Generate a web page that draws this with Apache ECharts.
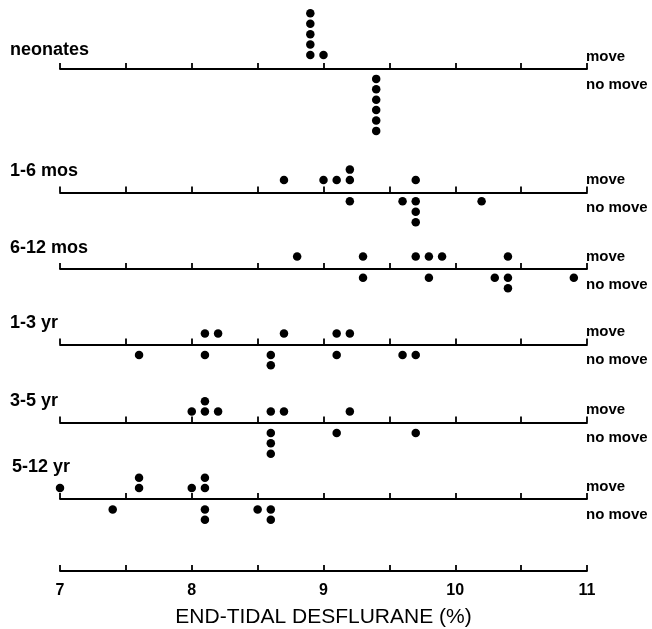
<!DOCTYPE html>
<html>
<head>
<meta charset="utf-8">
<script src="https://cdn.jsdelivr.net/npm/echarts@6/dist/echarts.min.js"></script>
<style>
  html, body { margin: 0; padding: 0; background: #fff; }
  #chart { width: 652px; height: 629px; }
</style>
</head>
<body>
<div id="chart"></div>
<script>
// ---- data (end-tidal desflurane %, one entry per patient) ----
const groups = ['neonates', '1-6 mos', '6-12 mos', '1-3 yr', '3-5 yr', '5-12 yr'];
const neonatesMove   = [8.9, 8.9, 8.9, 8.9, 8.9, 9.0];
const neonatesNoMove = [9.4, 9.4, 9.4, 9.4, 9.4, 9.4];
const mos1to6Move    = [8.7, 9.0, 9.1, 9.2, 9.2, 9.7];
const mos1to6NoMove  = [9.2, 9.6, 9.7, 9.7, 9.7, 10.2];
const mos6to12Move   = [8.8, 9.3, 9.7, 9.8, 9.9, 10.4];
const mos6to12NoMove = [9.3, 9.8, 10.3, 10.4, 10.4, 10.9];
const yr1to3Move     = [8.1, 8.2, 8.7, 9.1, 9.2];
const yr1to3NoMove   = [7.6, 8.1, 8.6, 8.6, 9.1, 9.6, 9.7];
const yr3to5Move     = [8.0, 8.1, 8.1, 8.2, 8.6, 8.7, 9.2];
const yr3to5NoMove   = [8.6, 8.6, 8.6, 9.1, 9.7];
const yr5to12Move    = [7.0, 7.6, 7.6, 8.0, 8.1, 8.1];
const yr5to12NoMove  = [7.4, 8.1, 8.1, 8.5, 8.6, 8.6];
const xTickLabels = ['7', '8', '9', '10', '11'];
const xTitle = 'END-TIDAL DESFLURANE (%)';
const moveLabel = 'move';
const noMoveLabel = 'no move';

const moveSets   = [neonatesMove, mos1to6Move, mos6to12Move, yr1to3Move, yr3to5Move, yr5to12Move];
const noMoveSets = [neonatesNoMove, mos1to6NoMove, mos6to12NoMove, yr1to3NoMove, yr3to5NoMove, yr5to12NoMove];

// ---- layout / style ----
const rowAxisY = [69, 192.5, 269, 344.5, 422.5, 499];
const rowLabelDy = [-28, -30, -30, -30, -30, -41];
const bottomAxisY = 574;
const unitPx = 10.4;          // vertical distance between stacked dots
const yHalf = 6.5;            // y-axis half range in dot units
const moveFirst = [1.35, 1.2, 1.2, 1.05, 1.05, 1.05];   // first "move" dot level above line
const noMoveFirst = [0.95, 0.85, 0.85, 1.0, 1.0, 1.0];  // first "no move" dot level below line
const left = 60, right = 65;
const FONT = '"Liberation Sans", Arial, Helvetica, sans-serif';

// stack repeated values: each repeat goes one level further from the axis
function stackPoints(values, sign, first) {
  const seen = {};
  return values.map(v => {
    const key = v.toFixed(2);
    const k = seen[key] || 0;
    seen[key] = k + 1;
    return [v, sign * (first + k)];
  });
}

const grids = [], xAxes = [], yAxes = [], series = [], graphics = [];
const lineStyle = { color: '#000', width: 1.8 };

groups.forEach((g, i) => {
  const Y = rowAxisY[i];
  grids.push({ left: left, right: right, top: Y - yHalf * unitPx, height: 2 * yHalf * unitPx });
  xAxes.push({
    gridIndex: i, type: 'value', min: 7, max: 11, interval: 0.5,
    axisLine: { show: true, onZero: true, lineStyle: lineStyle },
    axisTick: { show: true, inside: true, length: 6, lineStyle: lineStyle },
    axisLabel: { show: false }, splitLine: { show: false }
  });
  yAxes.push({ gridIndex: i, type: 'value', min: -yHalf, max: yHalf, show: false, splitLine: { show: false } });
  const pts = stackPoints(moveSets[i], 1, moveFirst[i]).concat(stackPoints(noMoveSets[i], -1, noMoveFirst[i]));
  series.push({
    type: 'scatter', xAxisIndex: i, yAxisIndex: i, data: pts,
    symbol: 'circle', symbolSize: 8.5, itemStyle: { color: '#000', opacity: 1 }, silent: true, animation: false
  });
  graphics.push({
    type: 'text', left: i === 5 ? 12 : 10, top: Y + rowLabelDy[i],
    style: { text: g, font: 'bold 18px ' + FONT, fill: '#000' }
  });
  graphics.push({
    type: 'text', left: 586, top: Y - 20,
    style: { text: moveLabel, font: 'bold 15px ' + FONT, fill: '#000' }
  });
  graphics.push({
    type: 'text', left: 586, top: Y + 8,
    style: { text: noMoveLabel, font: 'bold 15px ' + FONT, fill: '#000' }
  });
});

// bottom reference axis with tick labels and title
const bi = groups.length;
grids.push({ left: left, right: right, top: bottomAxisY - 20, height: 20 });
xAxes.push({
  gridIndex: bi, type: 'value', min: 7, max: 11, interval: 0.5,
  axisLine: { show: true, onZero: false, lineStyle: lineStyle },
  axisTick: { show: true, inside: true, length: 6, lineStyle: lineStyle },
  axisLabel: {
    show: true, margin: 12, color: '#000', fontFamily: FONT, fontWeight: 'bold', fontSize: 16,
    formatter: v => (Number.isInteger(v) ? xTickLabels[v - 7] : '')
  },
  splitLine: { show: false },
  name: xTitle, nameLocation: 'middle', nameGap: 36,
  nameTextStyle: { color: '#000', fontFamily: FONT, fontSize: 21 }
});
yAxes.push({ gridIndex: bi, type: 'value', min: 0, max: 1, show: false, splitLine: { show: false } });

const chart = echarts.init(document.getElementById('chart'), null, { renderer: 'canvas' });
chart.setOption({
  backgroundColor: '#fff',
  animation: false,
  grid: grids, xAxis: xAxes, yAxis: yAxes, series: series,
  graphic: graphics
});
</script>
</body>
</html>
